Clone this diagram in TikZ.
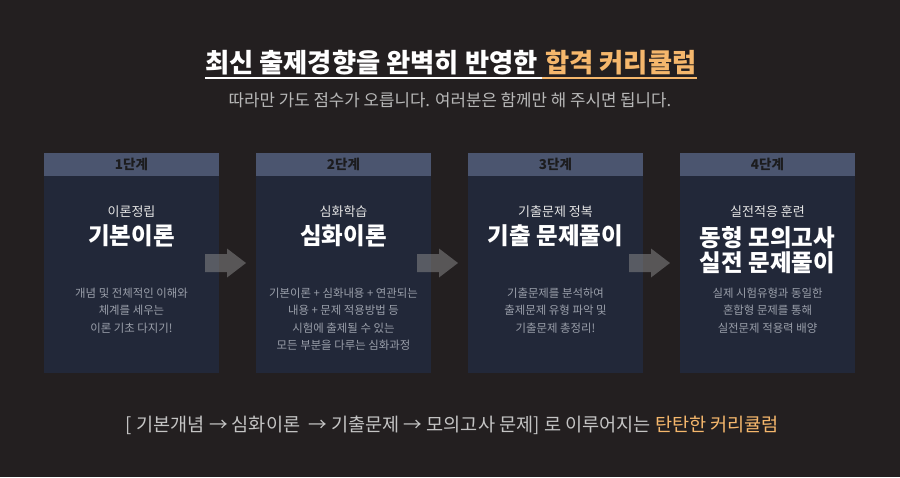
\documentclass[tikz,border=0pt]{standalone}
\usepackage{fontspec}
\setmainfont{Noto Sans CJK KR}
\usetikzlibrary{calc}
\definecolor{bgc}{HTML}{231F20}
\definecolor{bodyc}{HTML}{222839}
\definecolor{headc}{HTML}{4B556F}
\definecolor{headtxt}{HTML}{1C1C1E}
\definecolor{orangec}{HTML}{F5B76C}
\definecolor{subc}{HTML}{B8B8B8}
\definecolor{descc}{HTML}{9A9FAA}
\definecolor{botc}{HTML}{C4C4C4}
\definecolor{arrc}{HTML}{8E8E8E}
\tikzset{
  body/.style={fill=bodyc, draw=none, minimum width=175, minimum height=220, inner sep=0},
  head/.style={fill=headc, draw=none, minimum width=175, minimum height=23, inner sep=0, anchor=north,
    text=headtxt, font=\fontsize{13.5}{15}\selectfont\bfseries},
  subt/.style={text=white!90!black, inner sep=0, font=\fontsize{13}{15}\selectfont},
  maint/.style={text=white, inner sep=0, align=center, font=\fontsize{23.5}{25}\selectfont\bfseries},
  desc/.style={text=descc, inner sep=0, align=center, anchor=north, font=\fontsize{11.4}{17.6}\selectfont},
  blockarrow/.style={fill=arrc, fill opacity=0.5, draw=none},
}
\begin{document}
\begin{tikzpicture}[x=1pt,y=-1pt]
\fill[bgc] (0,0) rectangle (900,477);
\useasboundingbox (0,0) rectangle (900,477);
% title
\node[anchor=base east, inner sep=0, text=white, font=\fontsize{26.3}{30}\selectfont\bfseries] (t1) at (538,72) {최신 출제경향을 완벽히 반영한};
\node[anchor=base west, inner sep=0, text=orangec, font=\fontsize{26.3}{30}\selectfont\bfseries] (t2) at ($(t1.base east)+(7,0)$) {합격 커리큘럼};
\coordinate (ul) at (0,78);
\draw[white, line width=1.6] (t1.west |- ul) -- ($(t2.west |- ul)+(-3,0)$);
\draw[orangec, line width=1.6] ($(t2.west |- ul)+(-3,0)$) -- (t2.east |- ul);
\node[text=subc, inner sep=0, font=\fontsize{16.8}{19}\selectfont] (subtitle) at (450,100) {따라만 가도 점수가 오릅니다. 여러분은 함께만 해 주시면 됩니다.};
% boxes
\foreach \i/\x in {1/131.5,2/343.5,3/555.5,4/767.5}{
  \node[body] (b\i) at (\x,263) {};
  \node[head] (h\i) at (b\i.north) {\i{}단계};
}
% box 1
\node[subt] (s1) at (131.5,212) {이론정립};
\node[maint] (m1) at (131.5,236) {기본이론};
\node[desc] (d1) at (131.5,287.5) {개념 및 전체적인 이해와\\체계를 세우는\\이론 기초 다지기!};
% box 2
\node[subt] (s2) at (343.5,212) {심화학습};
\node[maint] (m2) at (343.5,236) {심화이론};
\node[desc] (d2) at (343.5,287.5) {기본이론 + 심화내용 + 연관되는\\내용 + 문제 적용방법 등\\시험에 출제될 수 있는\\모든 부분을 다루는 심화과정};
% box 3
\node[subt] (s3) at (555.5,212) {기출문제 정복};
\node[maint] (m3) at (555.5,236) {기출 문제풀이};
\node[desc] (d3) at (555.5,287.5) {기출문제를 분석하여\\출제문제 유형 파악 및\\기출문제 총정리!};
% box 4
\node[subt] (s4) at (767.5,212) {실전적응 훈련};
\node[maint, anchor=north] (m4) at (767.5,226.5) {동형 모의고사\\실전 문제풀이};
\node[desc] (d4) at (767.5,287.5) {실제 시험유형과 동일한\\혼합형 문제를 통해\\실전문제 적용력 배양};
% block arrows
\foreach \a/\b in {1/2,2/3,3/4}{
  \coordinate (ar\a) at ($(b\a.east)!0.5!(b\b.west)+(-12,0)$);
  \fill[blockarrow] ($(ar\a)+(-20.5,-9)$) -- ($(ar\a)+(1.5,-9)$) -- ($(ar\a)+(1.5,-14.5)$)
    -- ($(ar\a)+(20.5,0)$) -- ($(ar\a)+(1.5,14.5)$) -- ($(ar\a)+(1.5,9)$) -- ($(ar\a)+(-20.5,9)$) -- cycle;
}
% bottom line
\node[text=botc, inner sep=0, font=\fontsize{18.6}{21}\selectfont] (bottom) at (452.5,425)
  {[ 기본개념 → 심화이론 \ → 기출문제 → 모의고사 문제] 로 이루어지는 \textcolor{orangec}{탄탄한 커리큘럼}};
\end{tikzpicture}
\end{document}
